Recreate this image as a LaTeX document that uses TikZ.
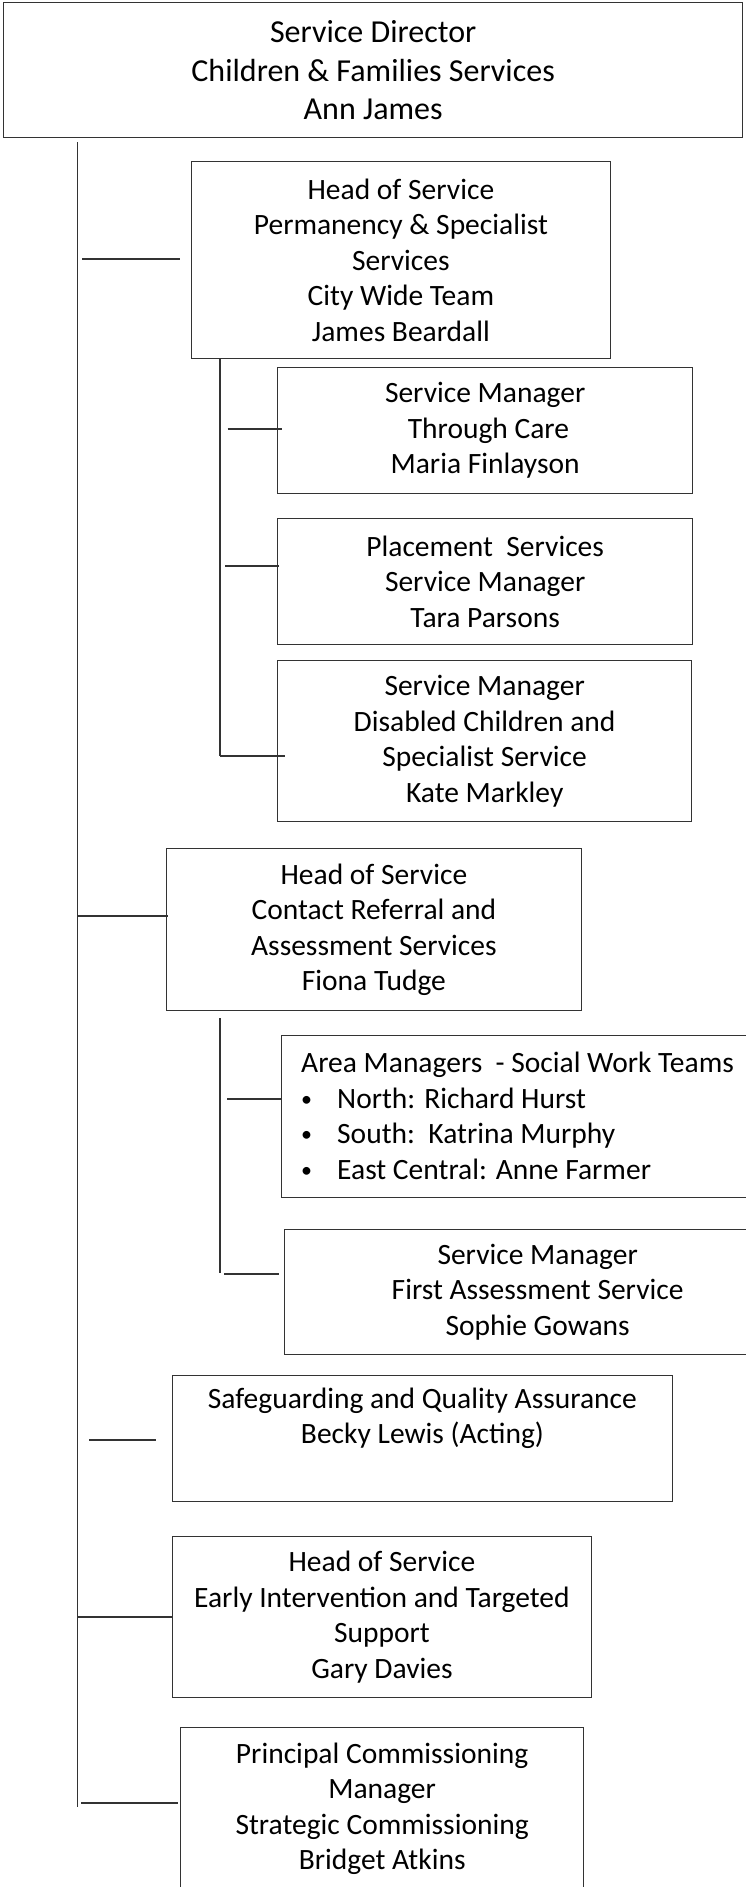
\documentclass[tikz,border=0pt]{standalone}
\usepackage{fontspec}
\setmainfont{Carlito}
\newcommand{\bul}{\makebox[36pt][l]{\raisebox{2pt}{\fontsize{22}{22}\selectfont •}}}
\begin{document}
\begin{tikzpicture}[x=1pt,y=-1pt,
  ln/.style={draw=black!80,line width=1.3pt},
  orgbox/.style={ln,rectangle,anchor=north west,inner sep=0pt,align=center,
     font=\fontsize{29.5}{35.5}\selectfont,text=black},
  plaintext/.style={anchor=north west,inner sep=0pt,align=left,
     font=\fontsize{29.5}{35.5}\selectfont,text=black},
  conn/.style={ln}]
\useasboundingbox (0,0) rectangle (745,1887);
\fill[white] (0,0) rectangle (745,1887);
% boxes
\node[orgbox,minimum width=739pt,minimum height=135pt,font=\fontsize{32}{38.5}\selectfont] (dir) at (3,2)
  {Service Director\\Children \& Families Services\\Ann James};
\node[orgbox,minimum width=419.5pt,minimum height=197pt] (perm) at (190.5,161)
  {Head of Service\\Permanency \& Specialist\\Services\\City Wide Team\\James Beardall};
\node[orgbox,minimum width=415pt,minimum height=126pt] (thru) at (277,367)
  {Service Manager\\\ Through Care\\Maria Finlayson};
\node[orgbox,minimum width=415pt,minimum height=126pt] (place) at (277,518)
  {Placement\ \ Services\\Service Manager\\Tara Parsons};
\node[orgbox,minimum width=414pt,minimum height=161pt] (dis) at (277,660)
  {Service Manager\\Disabled Children and\\Specialist Service\\Kate Markley};
\node[orgbox,minimum width=414.5pt,minimum height=162pt] (crs) at (166,848)
  {Head of Service\\Contact Referral and\\Assessment Services\\Fiona Tudge};
\node[orgbox,minimum width=479pt,minimum height=162pt] (area) at (281,1035) {};
\node[plaintext] (areatxt) at (301,1052)
  {Area Managers\ \ - Social Work Teams\\
   \bul North: Richard Hurst\\
   \bul South:\ \ Katrina Murphy\\
   \bul East Central: Anne Farmer};
\node[orgbox,minimum width=506pt,minimum height=125pt] (first) at (284,1229)
  {Service Manager\\First Assessment Service\\Sophie Gowans};
\node[orgbox,minimum width=500.5pt,minimum height=126pt] (safe) at (171.5,1375)
  {Safeguarding and Quality Assurance\\Becky Lewis (Acting)\\\strut};
\node[orgbox,minimum width=419.5pt,minimum height=161pt] (early) at (171.5,1536)
  {Head of Service\\Early Intervention and Targeted\\Support\\Gary Davies};
\node[orgbox,minimum width=403pt,minimum height=162pt] (comm) at (180,1727)
  {Principal Commissioning\\Manager\\Strategic Commissioning\\Bridget Atkins};
% spine coordinates
\coordinate (s0) at (77.5,142);
\coordinate (s1) at (77.5,1807);
\coordinate (t0) at (220,358);
\coordinate (t1) at (220,756);
\coordinate (u0) at (220,1018);
\coordinate (u1) at (220,1273);
\draw[conn] (s0) -- (s1);
\draw[conn] (t0) -- (t1);
\draw[conn] (u0) -- (u1);
% main branches
\coordinate (a1) at (82,259);   \coordinate (b1) at (180,259);
\coordinate (a2) at (77.5,916); \coordinate (b2) at (168,916);
\coordinate (a3) at (89,1440);  \coordinate (b3) at (156,1440);
\coordinate (a4) at (77.5,1617);\coordinate (b4) at (171.5,1617);
\coordinate (a5) at (81,1803);  \coordinate (b5) at (178,1803);
\draw[conn] (a1) -- (b1);
\draw[conn] (a2) -- (b2);
\draw[conn] (a3) -- (b3);
\draw[conn] (a4) -- (b4);
\draw[conn] (a5) -- (b5);
% sub branches
\coordinate (c1) at (227.5,429); \coordinate (d1) at (282,429);
\coordinate (c2) at (225,566);   \coordinate (d2) at (279,566);
\coordinate (c3) at (220,756);   \coordinate (d3) at (284.5,756);
\coordinate (c4) at (227,1099);  \coordinate (d4) at (281,1099);
\coordinate (c5) at (224,1274);  \coordinate (d5) at (279,1274);
\draw[conn] (c1) -- (d1);
\draw[conn] (c2) -- (d2);
\draw[conn] (c3) -- (d3);
\draw[conn] (c4) -- (d4);
\draw[conn] (c5) -- (d5);
\end{tikzpicture}
\end{document}
